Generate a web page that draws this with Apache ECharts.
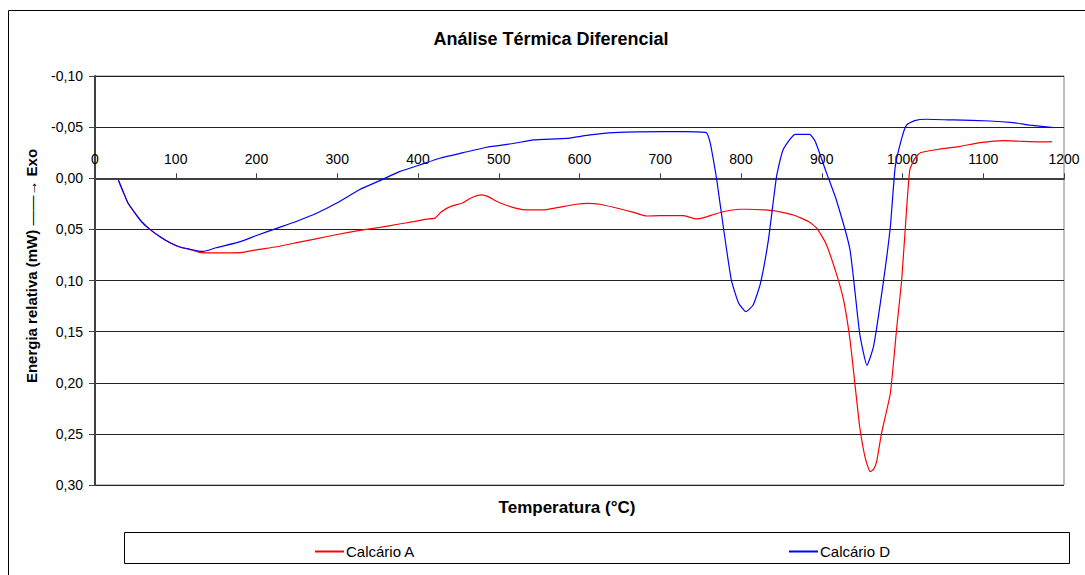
<!DOCTYPE html>
<html>
<head>
<meta charset="utf-8">
<script src="https://cdn.jsdelivr.net/npm/echarts@6/dist/echarts.min.js"></script>
<style>
html,body{margin:0;padding:0;background:#fff;}
#c{width:1085px;height:575px;}
</style>
</head>
<body>
<div id="c"></div>
<script>
// ---- data ----
const chartTitle = 'Análise Térmica Diferencial';
const xAxisTitle = 'Temperatura (°C)';
const yAxisTitleMain = 'Energia relativa (mW)';
const yAxisTitleArrow = '——→';
const yAxisTitleEnd = 'Exo';
const seriesNames = ['Calcário A', 'Calcário D'];

const xTickMin = 0, xTickMax = 1200, xTickStep = 100;
const yTickMin = -0.10, yTickMax = 0.30, yTickStep = 0.05;

const temperatureA = [29, 35, 41, 50, 58, 68, 81, 93, 105, 118, 128, 137, 150, 180, 200, 225, 250, 275, 300, 328, 353, 375, 394, 410, 421, 429, 440, 456, 465, 473, 479, 487, 496, 506, 522, 535, 555, 572, 596, 611, 625, 642, 667, 683, 699, 729, 745, 754, 770, 782, 799, 807, 840, 865, 884, 894, 905, 918, 927, 935, 941, 947, 954, 960, 964, 968, 974, 985, 993, 999, 1005, 1009, 1015, 1022, 1046, 1070, 1096, 1125, 1145, 1174, 1185];
const energyA = [0.002, 0.0134, 0.0245, 0.0346, 0.0428, 0.050, 0.0574, 0.063, 0.0672, 0.0698, 0.0722, 0.0729, 0.0730, 0.0728, 0.070, 0.067, 0.063, 0.059, 0.055, 0.051, 0.048, 0.045, 0.0425, 0.040, 0.039, 0.0327, 0.0278, 0.0239, 0.0196, 0.017, 0.0163, 0.018, 0.022, 0.0254, 0.0294, 0.031, 0.031, 0.0288, 0.0254, 0.0245, 0.0254, 0.0284, 0.0333, 0.0369, 0.0366, 0.0366, 0.0398, 0.0385, 0.0345, 0.032, 0.0303, 0.0303, 0.0317, 0.0359, 0.0425, 0.049, 0.0636, 0.093, 0.119, 0.158, 0.2006, 0.243, 0.274, 0.287, 0.285, 0.277, 0.2495, 0.210, 0.145, 0.0995, 0.031, -0.008, -0.019, -0.025, -0.0284, -0.031, -0.0348, -0.0368, -0.0362, -0.0355, -0.0358];

const temperatureD = [29, 35, 41, 50, 58, 68, 81, 93, 105, 118, 128, 134, 150, 180, 200, 225, 250, 275, 300, 328, 353, 377, 402, 427, 456, 485, 518, 543, 584, 613, 642, 704, 729, 757, 762, 768, 770, 778, 788, 797, 806, 815, 824, 834, 844, 852, 867, 885, 892, 906, 918, 935, 947, 956, 964, 976, 985, 991, 999, 1005, 1015, 1030, 1063, 1108, 1137, 1158, 1187];
const energyD = [0.002, 0.0134, 0.0245, 0.0346, 0.0428, 0.050, 0.0574, 0.063, 0.0672, 0.0695, 0.0712, 0.0716, 0.068, 0.062, 0.056, 0.049, 0.042, 0.034, 0.024, 0.011, 0.0023, -0.0065, -0.013, -0.0196, -0.025, -0.0303, -0.034, -0.0375, -0.039, -0.0424, -0.0446, -0.0456, -0.0456, -0.0446, -0.034, -0.008, 0.0017, 0.047, 0.0995, 0.122, 0.1305, 0.124, 0.103, 0.060, -0.0016, -0.0277, -0.043, -0.043, -0.036, -0.005, 0.021, 0.070, 0.152, 0.183, 0.165, 0.103, 0.047, -0.0114, -0.039, -0.052, -0.0564, -0.0577, -0.057, -0.056, -0.0544, -0.052, -0.0495];

const colors = ['#ff0000', '#0000ff'];

// ---- layout ----
const GRID = { left: 95, right: 21, top: 76, bottom: 90 };
const CHART_H = 575;
// the temperature axis sits on the zero line of the (inverted) energy axis
const plotH = CHART_H - GRID.top - GRID.bottom;
const zeroOffset = -plotH * (0 - yTickMin) / (yTickMax - yTickMin);

// ---- build ----
const FONT = '"Liberation Sans", Arial, sans-serif';
function zip(xs, ys) { return xs.map((x, i) => [x, ys[i]]); }
function fmtY(v) {
  if (Math.abs(v) < 1e-9) v = 0;
  return v.toFixed(2).replace('.', ',');
}
function fmtX(v) { return String(Math.round(v)); }

const chart = echarts.init(document.getElementById('c'), null, { renderer: 'svg' });

const option = {
  animation: false,
  backgroundColor: '#ffffff',
  grid: Object.assign({ show: true, borderColor: '#808080', borderWidth: 1, backgroundColor: 'transparent' }, GRID),
  xAxis: {
    type: 'value', min: xTickMin, max: xTickMax, interval: xTickStep,
    position: 'top', offset: zeroOffset,
    axisLine: { show: true, onZero: false, lineStyle: { color: '#404040', width: 2 } },
    axisTick: { show: true, length: 5, lineStyle: { color: '#404040', width: 1 } },
    axisLabel: { show: true, margin: 12, color: '#000', fontSize: 14, fontFamily: FONT, showMinLabel: true, showMaxLabel: true, formatter: fmtX },
    splitLine: { show: false }
  },
  yAxis: {
    type: 'value', inverse: true, min: yTickMin, max: yTickMax, interval: yTickStep,
    axisLine: { show: true, onZero: false, lineStyle: { color: '#404040', width: 2 } },
    axisTick: { show: true, length: 6, lineStyle: { color: '#404040', width: 1 } },
    axisLabel: { show: true, margin: 12, color: '#000', fontSize: 14, fontFamily: FONT, formatter: fmtY },
    splitLine: { show: true, lineStyle: { color: '#222', width: 1 } }
  },
  legend: [
    { data: [seriesNames[0]], left: 310, top: 539, icon: 'rect', itemWidth: 29, itemHeight: 2, itemGap: 0,
      textStyle: { color: '#000', fontSize: 15, fontFamily: FONT, padding: [0, 0, 0, -3] } },
    { data: [seriesNames[1]], left: 784, top: 539, icon: 'rect', itemWidth: 29, itemHeight: 2, itemGap: 0,
      textStyle: { color: '#000', fontSize: 15, fontFamily: FONT, padding: [0, 0, 0, -3] } }
  ],
  graphic: [
    { type: 'rect', silent: true, z: -10, shape: { x: 8.5, y: 10.5, width: 1100, height: 600 }, style: { fill: 'none', stroke: '#000', lineWidth: 1 } },
    { type: 'rect', silent: true, shape: { x: 124.5, y: 532.5, width: 945, height: 31 }, style: { fill: 'none', stroke: '#000', lineWidth: 1 } },
    { type: 'text', silent: true, x: 551, y: 39, style: { text: chartTitle, fill: '#000', font: 'bold 18px ' + FONT, align: 'center', verticalAlign: 'middle' } },
    { type: 'text', silent: true, x: 567, y: 507, style: { text: xAxisTitle, fill: '#000', font: 'bold 17px ' + FONT, align: 'center', verticalAlign: 'middle' } },
    { type: 'text', silent: true, x: 31, y: 266, rotation: Math.PI / 2,
      style: {
        text: '{b|' + yAxisTitleMain + '}{n| ' + yAxisTitleArrow + '}{b| ' + yAxisTitleEnd + '}',
        align: 'center', verticalAlign: 'middle',
        rich: {
          b: { fontSize: 15, fontWeight: 'bold', fontFamily: FONT, fill: '#000' },
          n: { fontSize: 15, fontWeight: 'normal', fontFamily: FONT, fill: '#000' }
        }
      } }
  ],
  series: [
    { type: 'line', name: seriesNames[0], data: zip(temperatureA, energyA), symbol: 'none', smooth: 0.15,
      lineStyle: { color: colors[0], width: 1.2 }, itemStyle: { color: colors[0] } },
    { type: 'line', name: seriesNames[1], data: zip(temperatureD, energyD), symbol: 'none', smooth: 0.15,
      lineStyle: { color: colors[1], width: 1.2 }, itemStyle: { color: colors[1] } }
  ]
};
chart.setOption(option);
</script>
</body>
</html>
